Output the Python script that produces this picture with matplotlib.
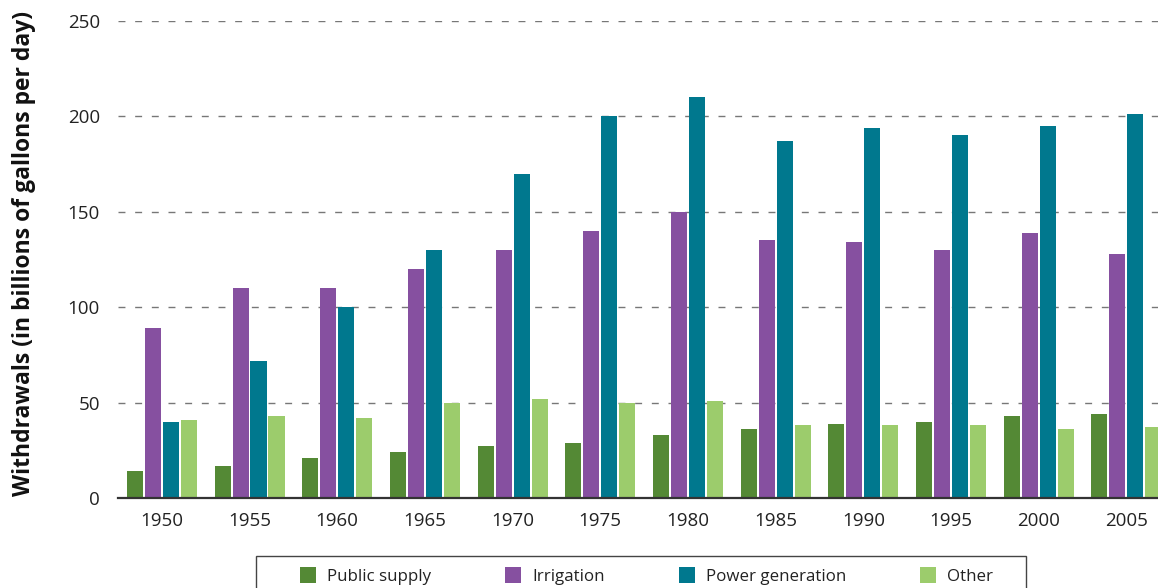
import matplotlib
matplotlib.use("Agg")
import matplotlib.pyplot as plt
from matplotlib.patches import Rectangle
import numpy as np

years = ["1950", "1955", "1960", "1965", "1970", "1975", "1980", "1985", "1990", "1995", "2000", "2005"]
public_supply = [14, 17, 21, 24, 27, 29, 33, 36, 39, 40, 43, 44]
irrigation = [89, 110, 110, 120, 130, 140, 150, 135, 134, 130, 139, 128]
power_generation = [40, 72, 100, 130, 170, 200, 210, 187, 194, 190, 195, 201]
other = [41, 43, 42, 50, 52, 50, 51, 38, 38, 38, 36, 37]

series_names = ["Public supply", "Irrigation", "Power generation", "Other"]
series_values = [public_supply, irrigation, power_generation, other]
colors = ["#548935", "#8650a0", "#00788e", "#9ccc6c"]

plt.rcParams['font.family'] = ['Open Sans', 'DejaVu Sans']

W, H = 1158, 588
fig = plt.figure(figsize=(W / 100, H / 100), dpi=100)
ax = fig.add_axes([118 / W, 1 - 498 / H, 1 - 118 / W, (498 - 21) / H])

x = np.arange(len(years))
step = 0.205
width = 0.183
for k, (name, vals, c) in enumerate(zip(series_names, series_values, colors)):
    ax.bar(x + (k - 1.5) * step, vals, width=width, color=c, label=name, zorder=3)

ax.set_xlim(-0.5, 11.36)
ax.set_ylim(0, 250)
ax.set_yticks([0, 50, 100, 150, 200, 250])
ax.set_xticks(x)
ax.set_xticklabels(years)
ax.tick_params(axis='both', length=0, labelsize=13.5, colors='#222222')
ax.tick_params(axis='y', pad=13)
ax.tick_params(axis='x', pad=10)

for v in [50, 100, 150, 200, 250]:
    ax.axhline(v, color='#777777', lw=1, ls=(0, (5, 7)), zorder=1)

for s in ['top', 'right', 'left']:
    ax.spines[s].set_visible(False)
ax.spines['bottom'].set_color('#333333')
ax.spines['bottom'].set_linewidth(1.6)
ax.spines['bottom'].set_zorder(4)

fig.text(24 / W, 1 - 254 / H, "Withdrawals (in billions of gallons per day)", fontsize=16.5,
         fontweight='bold', color='#111111', rotation=90, ha='center', va='center')

# legend frame
fig.patches.append(Rectangle((256 / W, -0.05), (1026 - 256) / W, (1 - 556 / H) + 0.05,
                             transform=fig.transFigure, fill=False, edgecolor='#444444',
                             linewidth=1.0))

fs = 12.2
fpx = fs * 100 / 72
leg = fig.legend(loc='center left', ncol=4,
                 bbox_to_anchor=(300 / W, 1 - 576 / H),
                 bbox_transform=fig.transFigure, frameon=False,
                 fontsize=fs, handlelength=16 / fpx, handleheight=17 / fpx,
                 handletextpad=11 / fpx, columnspacing=74 / fpx,
                 borderpad=0, borderaxespad=0)
for t in leg.get_texts():
    t.set_color('#222222')

fig.savefig("out.png", dpi=100)
